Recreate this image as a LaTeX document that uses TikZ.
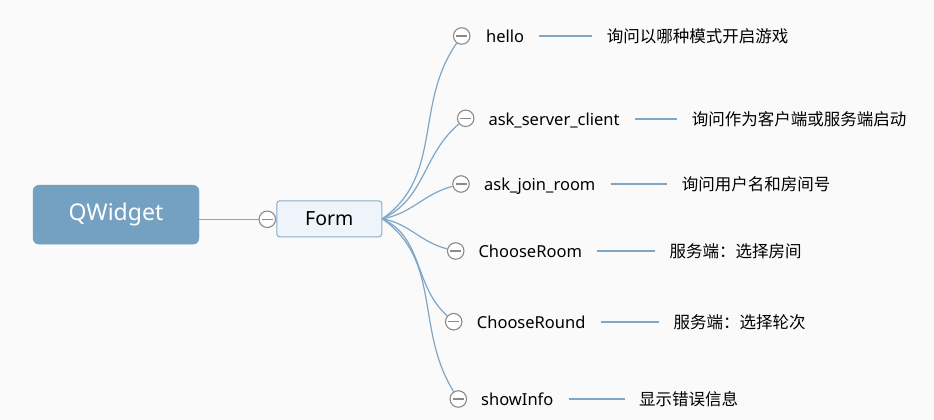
\documentclass[tikz,border=0pt]{standalone}
\usepackage{fontspec}
\setmainfont{Noto Sans}
\newfontfamily\cjk{Noto Sans CJK SC}
\definecolor{rootblue}{RGB}{116,160,193}
\definecolor{formfill}{RGB}{238,244,249}
\definecolor{formline}{RGB}{137,173,202}
\definecolor{branch}{RGB}{126,166,198}
\definecolor{foldgray}{RGB}{138,138,138}
\definecolor{paper}{RGB}{250,250,251}

\begin{document}
\begin{tikzpicture}[x=1pt, y=1pt,
    root/.style={fill=rootblue, draw=rootblue, rounded corners=6pt, minimum width=166pt, minimum height=59pt, text=white, font=\fontsize{23}{27}\selectfont},
    form/.style={fill=formfill, draw=formline, line width=1pt, rounded corners=3pt, minimum width=105pt, minimum height=36pt, font=\fontsize{19.5}{23}\selectfont},
    fold/.style={circle, draw=foldgray, fill=white, line width=1.1pt, minimum size=16.5pt, inner sep=0pt,
        path picture={\draw[foldgray, line width=1.1pt] ([xshift=-5.5pt]path picture bounding box.center) -- ([xshift=5.5pt]path picture bounding box.center);}},
    lbl/.style={anchor=base west, inner sep=0pt, text height=14pt, text depth=1pt, font=\fontsize{16.5}{20}\selectfont},
    desc/.style={lbl, font=\cjk\fontsize{16.5}{20}\selectfont},
    link/.style={draw=branch, line width=1.2pt},
    tie/.style={link, shorten <=15pt, shorten >=14.5pt}]

    \fill[paper] (0,0) rectangle (934,420);
    \useasboundingbox (0,0) rectangle (934,420);

    \node[root] (qw) at (116,205.3) {QWidget};
    \node[fold] (f0) at (267.3,200.7) {};
    \node[form] (form) at (329.3,201.2) {Form};

    \node[fold] (fhello) at (461.7,384) {};
    \node[lbl] (hello) at (486,377.5) {hello};
    \node[desc] (dhello) at (606.7,377.5) {询问以哪种模式开启游戏};

    \node[fold] (fserver) at (465.7,301.7) {};
    \node[lbl] (server) at (488.3,294.5) {ask\_server\_client};
    \node[desc] (dserver) at (691.7,294.5) {询问作为客户端或服务端启动};

    \node[fold] (fjoin) at (461,236) {};
    \node[lbl] (join) at (484,229.5) {ask\_join\_room};
    \node[desc] (djoin) at (681.7,229.5) {询问用户名和房间号};

    \node[fold] (froom) at (455.7,169) {};
    \node[lbl] (room) at (478.3,162.5) {ChooseRoom};
    \node[desc] (droom) at (669.3,162.5) {服务端：选择房间};

    \node[fold] (fround) at (453.7,98.3) {};
    \node[lbl] (round) at (476.7,91.5) {ChooseRound};
    \node[desc] (dround) at (673.3,91.5) {服务端：选择轮次};

    \node[fold] (finfo) at (458.3,21) {};
    \node[lbl] (info) at (481,14.5) {showInfo};
    \node[desc] (dinfo) at (639,14.5) {显示错误信息};

    \draw[link] (f0 -| qw.east) -- (f0);

    \draw[link] (form.east) to[out=35, in=235] (fhello);
    \draw[link] (form.east) to[out=25, in=220] (fserver);
    \draw[link] (form.east) to[out=10, in=195] (fjoin);
    \draw[link] (form.east) to[out=-10, in=166] (froom);
    \draw[link] (form.east) to[out=-25, in=138] (fround);
    \draw[link] (form.east) to[out=-35, in=122] (finfo);

    \draw[tie] (hello.east) -- (dhello.west);
    \draw[tie] (server.east) -- (dserver.west);
    \draw[tie] (join.east) -- (djoin.west);
    \draw[tie] (room.east) -- (droom.west);
    \draw[tie] (round.east) -- (dround.west);
    \draw[tie] (info.east) -- (dinfo.west);
\end{tikzpicture}
\end{document}
